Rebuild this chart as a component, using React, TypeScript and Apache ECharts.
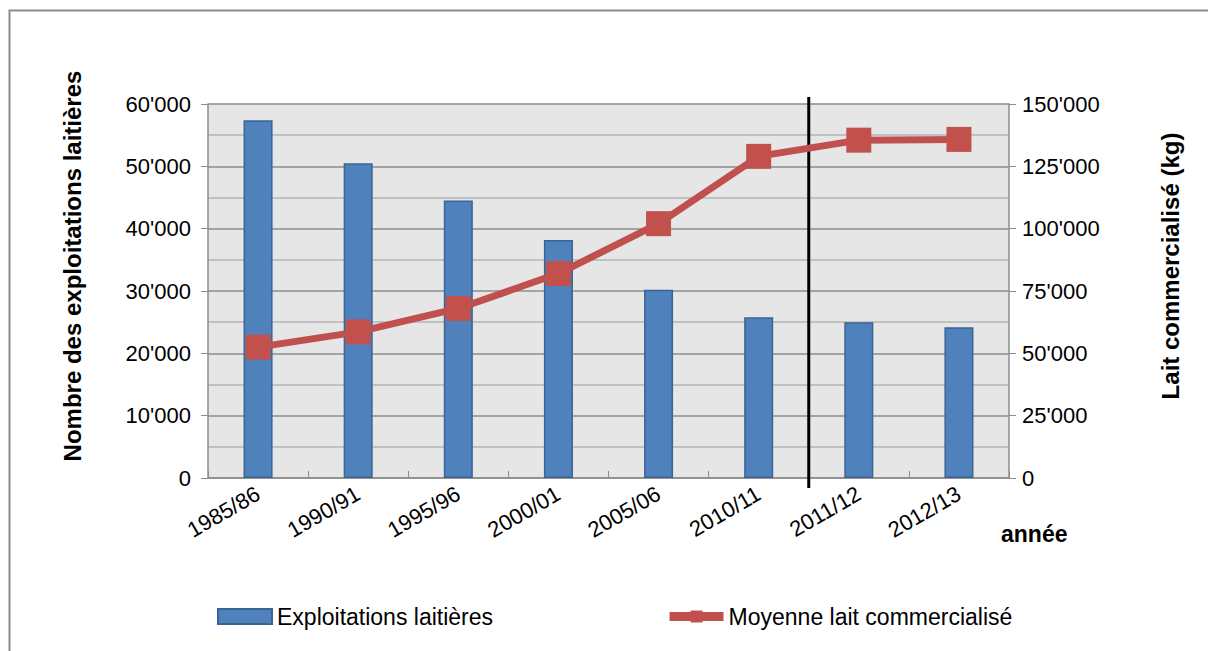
import React, { useEffect, useRef } from "react";
import * as echarts from "echarts";

const categories = ["1985/86", "1990/91", "1995/96", "2000/01", "2005/06", "2010/11", "2011/12", "2012/13"];
const exploitations = [57400, 50500, 44500, 38200, 30200, 25800, 25000, 24200];
const moyenneLait = [52500, 58600, 68000, 82000, 102000, 129000, 135500, 135800];
const leftTicks = { min: 0, max: 60000, interval: 10000 };
const rightTicks = { min: 0, max: 150000, interval: 25000 };

const FONT = "'Liberation Sans', Arial, sans-serif";
const fmt = (v: number) => {
  const s = Math.round(v).toString();
  return s.replace(/\B(?=(\d{3})+(?!\d))/g, "'");
};

export default function App() {
  const ref = useRef<HTMLDivElement>(null);
  useEffect(() => {
    if (!ref.current) return;
    const chart = echarts.init(ref.current, null, { renderer: "svg" });
    const option: any = {
      animation: false,
      backgroundColor: "#ffffff",
      textStyle: { fontFamily: FONT },
      grid: {
        left: 208,
        right: 199,
        top: 104,
        bottom: 173,
        show: true,
        backgroundColor: "#E6E6E6",
        borderWidth: 0,
      },
      legend: {
        left: 212,
        top: 600,
        itemWidth: 54,
        itemHeight: 15,
        itemGap: 172,
        textStyle: { fontSize: 23, color: "#000", fontFamily: FONT },
        data: [
          { name: "Exploitations laitières", icon: "rect" },
          { name: "Moyenne lait commercialisé", lineStyle: { width: 9, color: "#C0504D" } },
        ],
      },
      xAxis: {
        type: "category",
        data: categories,
        boundaryGap: true,
        axisLine: { show: true, lineStyle: { color: "#8C8C8C", width: 1.5 } },
        axisTick: { show: true, inside: true, length: 7, lineStyle: { color: "#8C8C8C" } },
        axisLabel: { rotate: 30, fontSize: 22, color: "#000", margin: 14, fontFamily: FONT },
        splitLine: { show: false },
      },
      yAxis: [
        {
          type: "value",
          position: "left",
          min: leftTicks.min,
          max: leftTicks.max,
          interval: leftTicks.interval,
          name: "Nombre des exploitations laitières",
          nameLocation: "middle",
          nameRotate: 90,
          nameGap: 124,
          nameTextStyle: { fontSize: 24, fontWeight: "bold", color: "#000", fontFamily: FONT, padding: [0, 0, 0, 50] },
          axisLine: { show: true, lineStyle: { color: "#8C8C8C", width: 1.5 } },
          axisTick: { show: true, length: 7, lineStyle: { color: "#8C8C8C" } },
          axisLabel: { fontSize: 22, color: "#000", margin: 17, formatter: fmt, fontFamily: FONT },
          splitLine: { show: true, lineStyle: { color: "#8C8C8C", width: 1.5 } },
          minorTick: { show: false, splitNumber: 2 },
          minorSplitLine: { show: true, lineStyle: { color: "#B4B4B4", width: 1.5 } },
        },
        {
          type: "value",
          position: "right",
          min: rightTicks.min,
          max: rightTicks.max,
          interval: rightTicks.interval,
          name: "Lait commercialisé (kg)",
          nameLocation: "middle",
          nameRotate: 90,
          nameGap: 149,
          nameTextStyle: { fontSize: 24, fontWeight: "bold", color: "#000", fontFamily: FONT, padding: [0, 0, 0, 50] },
          axisLine: { show: true, lineStyle: { color: "#8C8C8C", width: 1.5 } },
          axisTick: { show: true, length: 7, lineStyle: { color: "#8C8C8C" } },
          axisLabel: { fontSize: 22, color: "#000", margin: 13, formatter: fmt, fontFamily: FONT },
          splitLine: { show: false },
        },
      ],
      series: [
        {
          name: "Exploitations laitières",
          type: "bar",
          yAxisIndex: 0,
          data: exploitations,
          barWidth: "29%",
          itemStyle: { color: "#4F81BD", borderColor: "#3A6493", borderWidth: 1.5 },
          z: 2,
        },
        {
          name: "Moyenne lait commercialisé",
          type: "line",
          yAxisIndex: 1,
          data: moyenneLait,
          symbol: "rect",
          symbolSize: 25,
          lineStyle: { color: "#C0504D", width: 7 },
          itemStyle: { color: "#C2504D", opacity: 1 },
          z: 4,
        },
      ],
      graphic: [
        {
          type: "rect",
          left: 7,
          top: 8,
          shape: { width: 1400, height: 800 },
          style: { fill: "none", stroke: "#8C8C8C", lineWidth: 2 },
          z: -10,
          silent: true,
        },
        {
          type: "text",
          left: 1001,
          top: 522,
          style: { text: "année", font: `bold 23px ${FONT}`, fill: "#000" },
        },
      ],
    };
    chart.setOption(option);
    // vertical separator between 2010/11 and 2011/12, derived from the axis scale
    const x5 = chart.convertToPixel({ xAxisIndex: 0 }, categories[5]) as number;
    const x6 = chart.convertToPixel({ xAxisIndex: 0 }, categories[6]) as number;
    const xm = (x5 + x6) / 2;
    const yTop = chart.convertToPixel({ yAxisIndex: 0 }, leftTicks.max) as number;
    const yBot = chart.convertToPixel({ yAxisIndex: 0 }, leftTicks.min) as number;
    chart.setOption({
      graphic: [
        option.graphic[0],
        option.graphic[1],
        {
          type: "line",
          shape: { x1: xm, y1: yTop - 7, x2: xm, y2: yBot + 10 },
          style: { stroke: "#000", lineWidth: 3 },
          z: 3,
          silent: true,
        },
      ],
    });
    return () => chart.dispose();
  }, []);
  return <div ref={ref} style={{ position: "absolute", left: 0, top: 0, width: 1208, height: 651 }} />;
}
